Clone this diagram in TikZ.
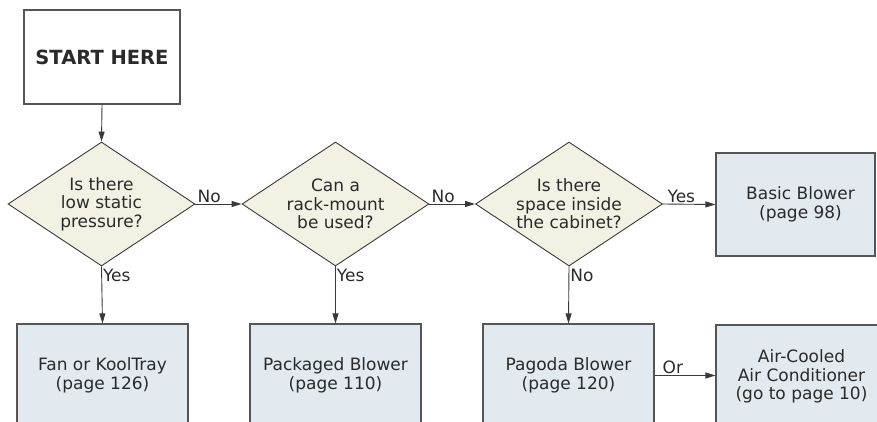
\documentclass[tikz,border=0pt]{standalone}
\usepackage{fontspec}
\setmainfont{DejaVu Sans}
\usetikzlibrary{shapes.geometric,arrows.meta}
\definecolor{linegray}{HTML}{3A3A3A}
\definecolor{boxedge}{HTML}{555555}
\definecolor{decfill}{HTML}{F2F1E3}
\definecolor{resfill}{HTML}{E2E9EF}
\definecolor{txt}{HTML}{2A2A2A}
\begin{document}
\begin{tikzpicture}[x=1pt,y=-1pt,
  every node/.style={font=\fontsize{17}{18.4}\selectfont, text=txt},
  startbox/.style={draw=boxedge, line width=1.1pt, fill=white, minimum width=156pt, minimum height=94pt, inner sep=0pt, font=\fontsize{19.5}{22}\selectfont\bfseries},
  decision/.style={diamond, draw=linegray, line width=0.9pt, fill=decfill, minimum width=187pt, minimum height=124pt, inner sep=0pt},
  dtext/.style={align=center, inner sep=0pt},
  result/.style={draw=boxedge, line width=1.1pt, fill=resfill, minimum width=171pt, minimum height=103pt, inner sep=0pt, align=center},
  conn/.style={draw=linegray, line width=0.9pt, -{Stealth[length=10pt,width=6pt,inset=0pt]}},
  lbl/.style={inner sep=1pt}
]
\useasboundingbox (0,0) rectangle (877,422);
\clip (0,0) rectangle (877,422);

\node[startbox] (start) at (102,57) {START HERE};

\node[decision] (d1) at (101.5,204) {};
\node[dtext] (t1) at (d1.center) {Is there\\low static\\pressure?};
\node[decision] (d2) at (335.5,204) {};
\node[dtext] (t2) at (d2.center) {Can a\\rack-mount\\be used?};
\node[decision] (d3) at (569,204) {};
\node[dtext] (t3) at (d3.center) {Is there\\space inside\\the cabinet?};

\node[result, minimum width=159pt] (basic) at (795.5,204.5) {\hspace*{10pt}Basic Blower\\\hspace*{10pt}(page 98)};

\node[result] (fan) at (102.5,375.5) {Fan or KoolTray\\(page 126)};
\node[result] (pack) at (335.5,375.5) {Packaged Blower\\(page 110)};
\node[result] (pag) at (568.5,375.5) {Pagoda Blower\\(page 120)};
\node[result] (air) at (801.5,376.5) {Air-Cooled\\Air Conditioner\\(go to page 10)};

\draw[conn] (start.south) -- (d1.north);
\draw[conn] (d1.east) -- node[lbl, above, pos=0.3] (n1) {No} (d2.west);
\draw[conn] (d2.east) -- node[lbl, above, pos=0.3] (n2) {No} (d3.west);
\draw[conn] (d3.east) -- node[lbl, above, pos=0.35] (y3) {Yes} (basic.west);
\draw[conn] (d1.south) -- node[lbl, right, pos=0.15] (y1) {Yes} (fan.north);
\draw[conn] (d2.south) -- node[lbl, right, pos=0.15] (y2) {Yes} (pack.north);
\draw[conn] (d3.south) -- node[lbl, right, pos=0.15] (n3) {No} (pag.north);
\draw[conn] (pag.east) -- node[lbl, above, pos=0.3] (or) {Or} (pag.east -| air.west);
\end{tikzpicture}
\end{document}
